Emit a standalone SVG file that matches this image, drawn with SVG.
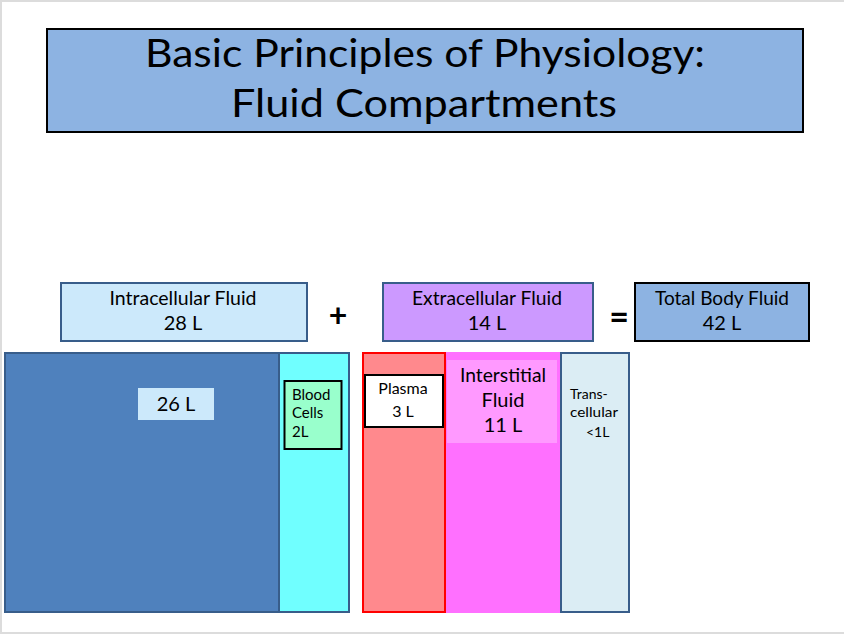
<svg xmlns="http://www.w3.org/2000/svg" width="844" height="634" viewBox="0 0 844 634">
<style>
text{font-family:Lato,"Liberation Sans",sans-serif;fill:#000}
.hdr{font-size:20px;text-anchor:middle}
.sm{font-size:15px}
.bd{stroke:#385D8A;stroke-width:2}
.bk{stroke:#000;stroke-width:2}
</style>
<rect x="0" y="0" width="844" height="634" fill="#fff"/>
<rect x="0" y="0" width="844" height="2" fill="#dcdcdc"/>
<rect x="0" y="0" width="2" height="634" fill="#dcdcdc"/>
<rect x="0" y="632" width="844" height="2" fill="#dcdcdc"/>

<g id="title">
<rect x="47" y="29" width="756" height="103" fill="#8DB3E2" class="bk"/>
<text x="425" y="67" font-size="38" text-anchor="middle" textLength="560" lengthAdjust="spacingAndGlyphs">Basic Principles of Physiology:</text>
<text x="424" y="117" font-size="38" text-anchor="middle" textLength="386" lengthAdjust="spacingAndGlyphs">Fluid Compartments</text>
</g>

<g id="icf">
<rect x="61" y="283" width="246" height="58" fill="#CCE9FB" class="bd"/>
<text class="hdr" x="183" y="305" textLength="147" lengthAdjust="spacingAndGlyphs">Intracellular Fluid</text>
<text class="hdr" x="183" y="330">28 L</text>
</g>

<g id="plus"><text x="338" y="327" font-size="32" font-weight="bold" text-anchor="middle">+</text></g>

<g id="ecf">
<rect x="383" y="283" width="210" height="58" fill="#CC99FF" class="bd"/>
<text class="hdr" x="487" y="305" textLength="150" lengthAdjust="spacingAndGlyphs">Extracellular Fluid</text>
<text class="hdr" x="487" y="330">14 L</text>
</g>

<g id="equals"><text x="619" y="329" font-size="34" font-weight="bold" text-anchor="middle">=</text></g>

<g id="tbf">
<rect x="635" y="283" width="174" height="58" fill="#8DB3E2" class="bk"/>
<text class="hdr" x="722" y="305" textLength="134" lengthAdjust="spacingAndGlyphs">Total Body Fluid</text>
<text class="hdr" x="722" y="330">42 L</text>
</g>

<g id="icf-cells">
<rect x="5" y="353" width="274" height="259" fill="#4F81BD" class="bd"/>
<rect x="138" y="388" width="76" height="32" fill="#CCE9FB"/>
<text class="hdr" x="176" y="411">26 L</text>
</g>

<g id="blood-cells">
<rect x="279" y="353" width="70" height="259" fill="#70FFFF" class="bd"/>
<rect x="284.5" y="381" width="57" height="68" fill="#99FFCC" class="bk"/>
<text class="sm" x="292" y="400">Blood</text>
<text class="sm" x="292" y="418">Cells</text>
<text class="sm" x="292" y="437">2L</text>
</g>

<g id="interstitial">
<rect x="445" y="352" width="115" height="261" fill="#FF70FF"/>
<rect x="447" y="360" width="110" height="83" fill="#FF99FF"/>
<text class="hdr" x="503" y="382" textLength="86" lengthAdjust="spacingAndGlyphs">Interstitial</text>
<text class="hdr" x="503" y="407">Fluid</text>
<text class="hdr" x="503" y="432">11 L</text>
</g>

<g id="plasma">
<rect x="363" y="353" width="82" height="259" fill="#FF898D" stroke="#FF0000" stroke-width="2"/>
<rect x="365" y="375" width="78" height="52" fill="#fff" class="bk"/>
<text x="403" y="394" font-size="16" text-anchor="middle">Plasma</text>
<text x="403" y="417" font-size="16" text-anchor="middle">3 L</text>
</g>

<g id="transcellular">
<rect x="561" y="353" width="68" height="259" fill="#DBEDF4" class="bd"/>
<text x="570" y="399" font-size="14">Trans-</text>
<text x="570" y="417" font-size="14" textLength="48" lengthAdjust="spacingAndGlyphs">cellular</text>
<text x="586" y="437" font-size="14">&lt;1L</text>
</g>

<g id="connectors"></g>
</svg>
